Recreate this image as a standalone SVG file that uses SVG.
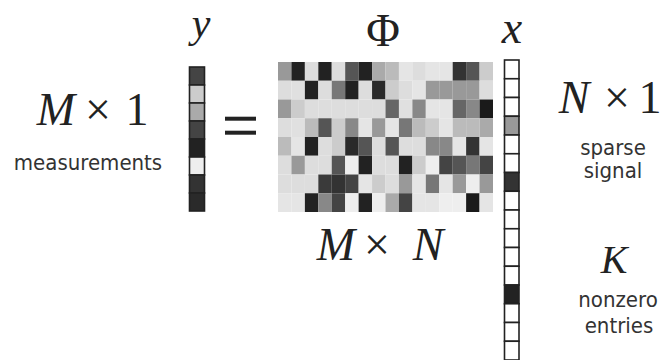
<svg xmlns="http://www.w3.org/2000/svg" width="665" height="360" viewBox="0 0 665 360">
<style>
.m{font-family:"Liberation Serif",serif;font-style:italic;fill:#222;text-anchor:middle}
.u{font-family:"Liberation Serif",serif;fill:#222;text-anchor:middle}
.s{font-family:"DejaVu Sans Condensed","DejaVu Sans",sans-serif;font-size:22px;fill:#333;text-anchor:middle}
.vc{stroke:#222;stroke-width:1.6}
</style>
<rect width="665" height="360" fill="#fff"/>
<g id="labels">
<text class="m" x="201" y="37" font-size="42">y</text>
<text class="u" x="383" y="46" font-size="46">Φ</text>
<text class="m" x="512" y="43" font-size="46">x</text>
<text class="m" x="56" y="125" font-size="46">M</text>
<text class="u" x="98" y="125" font-size="46">×</text>
<text class="u" x="137" y="125" font-size="46">1</text>
<text class="s" x="88" y="170">measurements</text>
<text class="m" x="574" y="113" font-size="46">N</text>
<text class="u" x="617" y="113" font-size="46">×</text>
<text class="u" x="650" y="113" font-size="46">1</text>
<text class="s" x="613" y="155">sparse</text>
<text class="s" x="613" y="178">signal</text>
<text class="m" x="336" y="260" font-size="46">M</text>
<text class="u" x="377" y="260" font-size="46">×</text>
<text class="m" x="428" y="260" font-size="46">N</text>
<text class="m" x="614" y="273" font-size="40">K</text>
<text class="s" x="618" y="307">nonzero</text>
<text class="s" x="619" y="333">entries</text>
</g>
<g id="y-vector" class="vc">
<rect x="189.5" y="67" width="15" height="18" fill="#444"/>
<rect x="189.5" y="85" width="15" height="18" fill="#ccc"/>
<rect x="189.5" y="103" width="15" height="18" fill="#aaa"/>
<rect x="189.5" y="121" width="15" height="18" fill="#444"/>
<rect x="189.5" y="139" width="15" height="18" fill="#222"/>
<rect x="189.5" y="157" width="15" height="18" fill="#eee"/>
<rect x="189.5" y="175" width="15" height="18" fill="#333"/>
<rect x="189.5" y="193" width="15" height="18" fill="#2a2a2a"/>
</g>
<g id="equals" fill="#222">
<rect x="225" y="116.7" width="31" height="4"/>
<rect x="225" y="130.7" width="31" height="4"/>
</g>
<g id="phi-matrix" transform="translate(278 62) scale(13.4375 18.75)">
<rect x="0" y="0" width="1" height="1" fill="#999"/><rect x="1" y="0" width="1" height="1" fill="#222"/><rect x="2" y="0" width="1" height="1" fill="#ddd"/><rect x="3" y="0" width="1" height="1" fill="#222"/><rect x="4" y="0" width="1" height="1" fill="#ddd"/><rect x="5" y="0" width="1" height="1" fill="#555"/><rect x="6" y="0" width="1" height="1" fill="#222"/><rect x="7" y="0" width="1" height="1" fill="#aaa"/><rect x="8" y="0" width="1" height="1" fill="#bbb"/><rect x="9" y="0" width="1" height="1" fill="#e5e5e5"/><rect x="10" y="0" width="1" height="1" fill="#ddd"/><rect x="11" y="0" width="1" height="1" fill="#e5e5e5"/><rect x="12" y="0" width="1" height="1" fill="#e5e5e5"/><rect x="13" y="0" width="1" height="1" fill="#333"/><rect x="14" y="0" width="1" height="1" fill="#555"/><rect x="15" y="0" width="1" height="1" fill="#ccc"/>
<rect x="0" y="1" width="1" height="1" fill="#ddd"/><rect x="1" y="1" width="1" height="1" fill="#e0e0e0"/><rect x="2" y="1" width="1" height="1" fill="#222"/><rect x="3" y="1" width="1" height="1" fill="#ddd"/><rect x="4" y="1" width="1" height="1" fill="#777"/><rect x="5" y="1" width="1" height="1" fill="#222"/><rect x="6" y="1" width="1" height="1" fill="#ddd"/><rect x="7" y="1" width="1" height="1" fill="#2a2a2a"/><rect x="8" y="1" width="1" height="1" fill="#ccc"/><rect x="9" y="1" width="1" height="1" fill="#ddd"/><rect x="10" y="1" width="1" height="1" fill="#e5e5e5"/><rect x="11" y="1" width="1" height="1" fill="#999"/><rect x="12" y="1" width="1" height="1" fill="#999"/><rect x="13" y="1" width="1" height="1" fill="#999"/><rect x="14" y="1" width="1" height="1" fill="#999"/><rect x="15" y="1" width="1" height="1" fill="#ddd"/>
<rect x="0" y="2" width="1" height="1" fill="#999"/><rect x="1" y="2" width="1" height="1" fill="#ccc"/><rect x="2" y="2" width="1" height="1" fill="#ddd"/><rect x="3" y="2" width="1" height="1" fill="#ddd"/><rect x="4" y="2" width="1" height="1" fill="#ddd"/><rect x="5" y="2" width="1" height="1" fill="#ddd"/><rect x="6" y="2" width="1" height="1" fill="#ddd"/><rect x="7" y="2" width="1" height="1" fill="#ddd"/><rect x="8" y="2" width="1" height="1" fill="#666"/><rect x="9" y="2" width="1" height="1" fill="#e0e0e0"/><rect x="10" y="2" width="1" height="1" fill="#888"/><rect x="11" y="2" width="1" height="1" fill="#e5e5e5"/><rect x="12" y="2" width="1" height="1" fill="#e5e5e5"/><rect x="13" y="2" width="1" height="1" fill="#666"/><rect x="14" y="2" width="1" height="1" fill="#888"/><rect x="15" y="2" width="1" height="1" fill="#1a1a1a"/>
<rect x="0" y="3" width="1" height="1" fill="#ddd"/><rect x="1" y="3" width="1" height="1" fill="#e0e0e0"/><rect x="2" y="3" width="1" height="1" fill="#bbb"/><rect x="3" y="3" width="1" height="1" fill="#555"/><rect x="4" y="3" width="1" height="1" fill="#ccc"/><rect x="5" y="3" width="1" height="1" fill="#888"/><rect x="6" y="3" width="1" height="1" fill="#e5e5e5"/><rect x="7" y="3" width="1" height="1" fill="#999"/><rect x="8" y="3" width="1" height="1" fill="#e5e5e5"/><rect x="9" y="3" width="1" height="1" fill="#777"/><rect x="10" y="3" width="1" height="1" fill="#bbb"/><rect x="11" y="3" width="1" height="1" fill="#ccc"/><rect x="12" y="3" width="1" height="1" fill="#e5e5e5"/><rect x="13" y="3" width="1" height="1" fill="#bbb"/><rect x="14" y="3" width="1" height="1" fill="#bbb"/><rect x="15" y="3" width="1" height="1" fill="#aaa"/>
<rect x="0" y="4" width="1" height="1" fill="#bbb"/><rect x="1" y="4" width="1" height="1" fill="#e5e5e5"/><rect x="2" y="4" width="1" height="1" fill="#222"/><rect x="3" y="4" width="1" height="1" fill="#ddd"/><rect x="4" y="4" width="1" height="1" fill="#ccc"/><rect x="5" y="4" width="1" height="1" fill="#2a2a2a"/><rect x="6" y="4" width="1" height="1" fill="#555"/><rect x="7" y="4" width="1" height="1" fill="#ddd"/><rect x="8" y="4" width="1" height="1" fill="#555"/><rect x="9" y="4" width="1" height="1" fill="#ddd"/><rect x="10" y="4" width="1" height="1" fill="#ddd"/><rect x="11" y="4" width="1" height="1" fill="#888"/><rect x="12" y="4" width="1" height="1" fill="#888"/><rect x="13" y="4" width="1" height="1" fill="#e5e5e5"/><rect x="14" y="4" width="1" height="1" fill="#333"/><rect x="15" y="4" width="1" height="1" fill="#e5e5e5"/>
<rect x="0" y="5" width="1" height="1" fill="#ddd"/><rect x="1" y="5" width="1" height="1" fill="#999"/><rect x="2" y="5" width="1" height="1" fill="#ddd"/><rect x="3" y="5" width="1" height="1" fill="#ddd"/><rect x="4" y="5" width="1" height="1" fill="#555"/><rect x="5" y="5" width="1" height="1" fill="#eee"/><rect x="6" y="5" width="1" height="1" fill="#222"/><rect x="7" y="5" width="1" height="1" fill="#ddd"/><rect x="8" y="5" width="1" height="1" fill="#ddd"/><rect x="9" y="5" width="1" height="1" fill="#222"/><rect x="10" y="5" width="1" height="1" fill="#ccc"/><rect x="11" y="5" width="1" height="1" fill="#eee"/><rect x="12" y="5" width="1" height="1" fill="#444"/><rect x="13" y="5" width="1" height="1" fill="#555"/><rect x="14" y="5" width="1" height="1" fill="#777"/><rect x="15" y="5" width="1" height="1" fill="#444"/>
<rect x="0" y="6" width="1" height="1" fill="#ddd"/><rect x="1" y="6" width="1" height="1" fill="#ddd"/><rect x="2" y="6" width="1" height="1" fill="#ddd"/><rect x="3" y="6" width="1" height="1" fill="#3a3a3a"/><rect x="4" y="6" width="1" height="1" fill="#333"/><rect x="5" y="6" width="1" height="1" fill="#444"/><rect x="6" y="6" width="1" height="1" fill="#e5e5e5"/><rect x="7" y="6" width="1" height="1" fill="#ccc"/><rect x="8" y="6" width="1" height="1" fill="#ddd"/><rect x="9" y="6" width="1" height="1" fill="#999"/><rect x="10" y="6" width="1" height="1" fill="#e5e5e5"/><rect x="11" y="6" width="1" height="1" fill="#777"/><rect x="12" y="6" width="1" height="1" fill="#e5e5e5"/><rect x="13" y="6" width="1" height="1" fill="#999"/><rect x="14" y="6" width="1" height="1" fill="#eee"/><rect x="15" y="6" width="1" height="1" fill="#999"/>
<rect x="0" y="7" width="1" height="1" fill="#e5e5e5"/><rect x="1" y="7" width="1" height="1" fill="#e5e5e5"/><rect x="2" y="7" width="1" height="1" fill="#222"/><rect x="3" y="7" width="1" height="1" fill="#888"/><rect x="4" y="7" width="1" height="1" fill="#444"/><rect x="5" y="7" width="1" height="1" fill="#eee"/><rect x="6" y="7" width="1" height="1" fill="#222"/><rect x="7" y="7" width="1" height="1" fill="#eee"/><rect x="8" y="7" width="1" height="1" fill="#aaa"/><rect x="9" y="7" width="1" height="1" fill="#444"/><rect x="10" y="7" width="1" height="1" fill="#e5e5e5"/><rect x="11" y="7" width="1" height="1" fill="#e5e5e5"/><rect x="12" y="7" width="1" height="1" fill="#eee"/><rect x="13" y="7" width="1" height="1" fill="#eee"/><rect x="14" y="7" width="1" height="1" fill="#1a1a1a"/><rect x="15" y="7" width="1" height="1" fill="#e5e5e5"/>
</g>
<g id="x-vector" class="vc" fill="#fff">
<rect x="504.5" y="60" width="14.5" height="18.75"/>
<rect x="504.5" y="78.75" width="14.5" height="18.75"/>
<rect x="504.5" y="97.5" width="14.5" height="18.75"/>
<rect x="504.5" y="116.25" width="14.5" height="18.75" fill="#999"/>
<rect x="504.5" y="135" width="14.5" height="18.75"/>
<rect x="504.5" y="153.75" width="14.5" height="18.75"/>
<rect x="504.5" y="172.5" width="14.5" height="18.75" fill="#333"/>
<rect x="504.5" y="191.25" width="14.5" height="18.75"/>
<rect x="504.5" y="210" width="14.5" height="18.75"/>
<rect x="504.5" y="228.75" width="14.5" height="18.75"/>
<rect x="504.5" y="247.5" width="14.5" height="18.75"/>
<rect x="504.5" y="266.25" width="14.5" height="18.75"/>
<rect x="504.5" y="285" width="14.5" height="18.75" fill="#222"/>
<rect x="504.5" y="303.75" width="14.5" height="18.75"/>
<rect x="504.5" y="322.5" width="14.5" height="18.75"/>
<rect x="504.5" y="341.25" width="14.5" height="18.75"/>
</g>
</svg>
